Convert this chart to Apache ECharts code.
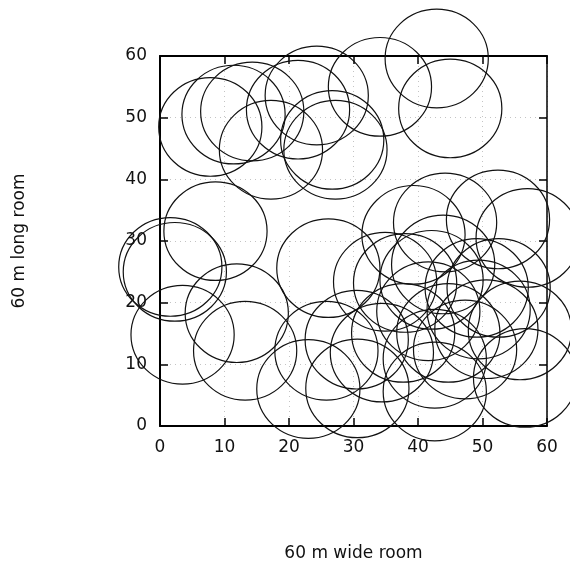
<!DOCTYPE html>
<html>
<head>
<meta charset="utf-8">
<script src="https://cdn.jsdelivr.net/npm/echarts@6/dist/echarts.min.js"></script>
<style>
html,body{margin:0;padding:0;background:#fff;}
#chart{width:570px;height:563px;}
</style>
</head>
<body>
<div id="chart"></div>
<script>
// Node positions (metres)
const nodeX = [7.8, 11.4, 14.3, 17.2, 21.4, 24.3, 26.7, 27.2, 34.1, 42.9, 45.0,
               8.6, 1.6, 2.3, 3.5, 11.9, 13.2, 26.1,
               23.0, 25.8, 30.6, 42.6, 56.6, 42.6,
               39.3, 44.2, 52.4, 57.0, 34.9, 38.0, 42.1, 43.9, 52.5, 50.6,
               37.7, 34.4, 44.7, 47.3, 41.6, 49.4, 55.8, 30.5, 49.1];
const nodeY = [48.5, 50.5, 51.0, 44.8, 51.3, 53.6, 46.4, 44.8, 55.0, 59.6, 51.5,
               31.6, 25.8, 25.0, 14.8, 18.3, 12.2, 25.6,
               6.0, 12.2, 6.1, 5.6, 7.8, 10.9,
               31.0, 33.0, 33.5, 30.5, 23.4, 23.2, 23.7, 26.2, 22.4, 15.7,
               15.1, 11.9, 15.1, 12.4, 18.6, 18.9, 15.5, 14.0, 22.4];
const rangeRadius = 8;            // radio range, metres
const axisTicks = [0, 10, 20, 30, 40, 50, 60];
const xAxisTitle = '60 m wide room';
const yAxisTitle = '60 m long room';

const data = nodeX.map((x, i) => [x, nodeY[i]]);
const chart = echarts.init(document.getElementById('chart'), null, {renderer: 'canvas'});
const labelFont = {fontFamily: 'DejaVu Sans', fontSize: 17, color: '#111'};
const nameFont = {fontFamily: 'DejaVu Sans', fontSize: 17, color: '#111'};
const frameLine = {show: true, onZero: false, lineStyle: {color: '#000', width: 2}};
const tickStyle = {show: true, inside: true, length: 8, lineStyle: {color: '#000', width: 1.5}};
const gridLine = {show: true, lineStyle: {color: '#c4c4c4', type: [1, 4], width: 1}};

chart.setOption({
  animation: false,
  backgroundColor: '#fff',
  grid: {left: 160, right: 23, top: 56, bottom: 137, containLabel: false, outerBoundsMode: 'none'},
  xAxis: [{
    type: 'value', min: 0, max: 60, interval: 10, position: 'bottom',
    axisLine: frameLine, axisTick: tickStyle, splitLine: gridLine,
    axisLabel: Object.assign({margin: 13, formatter: v => axisTicks.includes(v) ? String(v) : ''}, labelFont),
    name: xAxisTitle, nameLocation: 'middle', nameGap: 119,
    nameTextStyle: nameFont
  }, {
    type: 'value', min: 0, max: 60, interval: 10, position: 'top',
    axisLine: frameLine, axisTick: tickStyle, splitLine: {show: false}, axisLabel: {show: false}
  }],
  yAxis: [{
    type: 'value', min: 0, max: 60, interval: 10, position: 'left',
    axisLine: frameLine, axisTick: tickStyle, splitLine: gridLine,
    axisLabel: Object.assign({margin: 13, formatter: v => axisTicks.includes(v) ? String(v) : ''}, labelFont),
    name: yAxisTitle, nameLocation: 'middle', nameGap: 132, nameRotate: 90,
    nameTextStyle: nameFont
  }, {
    type: 'value', min: 0, max: 60, interval: 10, position: 'right',
    axisLine: {show: true, onZero: false, lineStyle: {color: '#000', width: 1.5}},
    axisTick: tickStyle, splitLine: {show: false}, axisLabel: {show: false}
  }],
  series: [{
    type: 'custom',
    clip: false,
    coordinateSystem: 'cartesian2d',
    data: data,
    renderItem: function (params, api) {
      const c = api.coord([api.value(0), api.value(1)]);
      const s = api.size([rangeRadius, rangeRadius]);
      return {
        type: 'ellipse',
        shape: {cx: c[0], cy: c[1], rx: s[0], ry: s[1]},
        style: {fill: 'none', stroke: '#111', lineWidth: 1.2}
      };
    }
  }]
});
</script>
</body>
</html>
